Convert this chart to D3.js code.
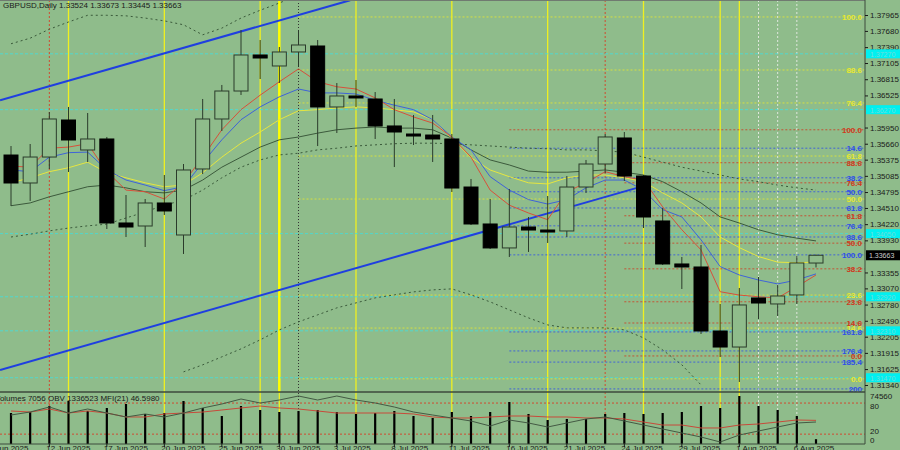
<!DOCTYPE html>
<html>
<head>
<meta charset="utf-8">
<script src="https://cdn.jsdelivr.net/npm/d3@7"></script>
<style>
  body { margin: 0; background: #8fbc8b; }
  svg text { font-family: "Liberation Sans", "DejaVu Sans", sans-serif; }
</style>
</head>
<body>
<svg id="chart" width="900" height="450"></svg>
<script>
// candles GBPUSD daily 10 Jun .. 7 Aug 2025
const opens  = [1.35458,1.34957,1.35422,1.36085,1.35548,1.35745,1.34241,1.34187,1.34599,1.34026,1.35208,1.36103,1.36604,1.37249,1.37052,1.37303,1.37410,1.36318,1.36515,1.36461,1.35978,1.35834,1.35816,1.35745,1.34885,1.34223,1.33794,1.34169,1.34115,1.34098,1.34885,1.35297,1.35763,1.35082,1.34277,1.33507,1.33453,1.32307,1.32020,1.32898,1.32791,1.32952,1.33524];
const highs  = [1.35619,1.35655,1.36228,1.36318,1.36210,1.35781,1.34742,1.34670,1.35100,1.35297,1.36461,1.36712,1.37696,1.37517,1.37392,1.37696,1.37517,1.36747,1.36801,1.36586,1.36461,1.36175,1.36175,1.35834,1.35029,1.34670,1.34850,1.34348,1.34724,1.35082,1.35369,1.35834,1.35870,1.35100,1.34509,1.33632,1.33847,1.32791,1.33077,1.33274,1.33131,1.33650,1.33673];
const lows   = [1.34545,1.34635,1.35208,1.35154,1.35333,1.34133,1.33990,1.33811,1.34384,1.33686,1.35118,1.35888,1.36533,1.36819,1.36747,1.37034,1.35619,1.35852,1.36318,1.35745,1.35243,1.35637,1.35333,1.34796,1.34205,1.33776,1.33632,1.33722,1.33883,1.33990,1.34778,1.35136,1.34993,1.34151,1.33489,1.33059,1.32253,1.31841,1.31394,1.32522,1.32576,1.32791,1.33445];
const closes = [1.34957,1.35422,1.36103,1.35727,1.35745,1.34241,1.34169,1.34599,1.34456,1.35190,1.36103,1.36604,1.37249,1.37195,1.37303,1.37428,1.36318,1.36515,1.36497,1.35978,1.35870,1.35816,1.35745,1.34867,1.34223,1.33794,1.34169,1.34115,1.34080,1.34885,1.35297,1.35781,1.35082,1.34348,1.33507,1.33453,1.32307,1.32020,1.32773,1.32808,1.32934,1.33525,1.33663];

// moving averages
const maRed    = [1.3526,1.3524,1.3558,1.3560,1.3566,1.3516,1.3483,1.3480,1.3467,1.3496,1.3542,1.3591,1.3627,1.3653,1.3677,1.3700,1.3677,1.3668,1.3664,1.3648,1.3627,1.3614,1.3603,1.3578,1.3542,1.3483,1.3456,1.3442,1.3430,1.3480,1.3496,1.3516,1.3507,1.3501,1.3453,1.3412,1.3376,1.3301,1.3295,1.3292,1.3290,1.3310,1.3331];
const maBlue   = [1.3519,1.3516,1.3542,1.3550,1.3551,1.3519,1.3501,1.3492,1.3482,1.3489,1.3532,1.3573,1.3609,1.3632,1.3650,1.3664,1.3657,1.3657,1.3655,1.3644,1.3635,1.3627,1.3609,1.3578,1.3555,1.3507,1.3483,1.3466,1.3458,1.3466,1.3487,1.3501,1.3501,1.3483,1.3448,1.3435,1.3394,1.3346,1.3331,1.3322,1.3315,1.3322,1.3333];
const maYellow = [1.3496,1.3505,1.3516,1.3523,1.3533,1.3514,1.3505,1.3496,1.3489,1.3492,1.3514,1.3542,1.3567,1.3587,1.3609,1.3625,1.3627,1.3630,1.3632,1.3630,1.3627,1.3623,1.3609,1.3576,1.3541,1.3519,1.3507,1.3496,1.3494,1.3505,1.3510,1.3510,1.3505,1.3498,1.3478,1.3460,1.3435,1.3399,1.3380,1.3364,1.3354,1.3353,1.3354];
const maGreen  = [1.3455,1.3460,1.3471,1.3480,1.3489,1.3492,1.3487,1.3480,1.3478,1.3483,1.3501,1.3524,1.3542,1.3560,1.3573,1.3578,1.3585,1.3591,1.3594,1.3596,1.3594,1.3594,1.3591,1.3576,1.3555,1.3537,1.3528,1.3517,1.3515,1.3515,1.3517,1.3519,1.3515,1.3510,1.3498,1.3480,1.3460,1.3435,1.3424,1.3412,1.3403,1.3397,1.3392];
const bandUpper = [1.3745,1.3755,1.3771,1.3784,1.3796,1.3796,1.3795,1.3791,1.3786,1.3779,1.3761,1.3773,1.3791,1.3805,1.3818,1.3832];
const bandMid   = [1.3399,1.3404,1.3410,1.3415,1.3419,1.3422,1.3433,1.3444,1.3456,1.3465,1.3483,1.3505,1.3524,1.3537,1.3546,1.3549,1.3555,1.3558,1.3562,1.3564,1.3566,1.3567,1.3567,1.3566,1.3564,1.3562,1.3560,1.3558,1.3557,1.3555,1.3555,1.3553,1.3551,1.3542,1.3533,1.3524,1.3517,1.3510,1.3503,1.3498,1.3492,1.3487,1.3483];
const bandLowerStart = 9;
const bandLower = [1.31575,1.31701,1.31844,1.31987,1.32148,1.32327,1.32470,1.32596,1.32721,1.32810,1.32900,1.32954,1.33007,1.33043,1.33061,1.32954,1.32828,1.32685,1.32542,1.32416,1.32363,1.32363,1.32363,1.32327,1.32184,1.31969,1.31701,1.31342];

// lower panel
const volumes = [45300,46800,55600,62900,48200,52600,58500,43900,45300,62900,52600,40900,55600,49700,46800,48200,49700,46800,43900,45300,48200,40900,38000,46800,40900,46800,61400,43900,35100,36600,36600,43900,45300,43900,45300,46800,55600,52600,70200,55600,49700,40900,7056];
const mfi = [64.7,62.7,68.5,60.8,64.7,60.8,53.1,53.1,58.9,60.8,62.7,66.6,70.5,74.3,70.5,68.5,64.7,60.8,60.8,60.8,60.8,58.9,53.1,51.2,51.2,53.1,55.0,55.0,53.1,53.1,51.2,51.2,49.2,43.4,37.6,37.6,31.9,31.9,37.6,39.6,43.4,47.3,46.6];
const obv = [1511523,1586523,1711523,1561523,1661523,1561523,1461523,1536523,1461523,1561523,1686523,1786523,1911523,1811523,1886523,1986523,1886523,1986523,1886523,1811523,1711523,1586523,1511523,1436523,1361523,1236523,1386523,1311523,1211523,1311523,1411523,1461523,1361523,1261523,1161523,1061523,961523,836523,1011523,1111523,1211523,1311523,1336523];

// axis / levels
const priceTicks = [1.37965,1.37680,1.37390,1.37105,1.36815,1.36525,1.35950,1.35660,1.35375,1.35085,1.34795,1.34510,1.34220,1.33930,1.33355,1.33070,1.32780,1.32490,1.32205,1.31915,1.31625,1.31340];
const dateLabels = [[-1,"9 Jun 2025"],[2,"12 Jun 2025"],[5,"17 Jun 2025"],[8,"20 Jun 2025"],[11,"25 Jun 2025"],[14,"30 Jun 2025"],[17,"3 Jul 2025"],[20,"8 Jul 2025"],[23,"11 Jul 2025"],[26,"16 Jul 2025"],[29,"21 Jul 2025"],[32,"24 Jul 2025"],[35,"29 Jul 2025"],[38,"1 Aug 2025"],[41,"6 Aug 2025"]];
const fibLabels = ["100.0","88.6","76.4","100.0","14.6","61.8","88.6","38.2","76.4","50.0","50.0","61.8","61.8","76.4","88.6","50.0","100.0","38.2","23.6","23.6","14.6","14.6","161.8","176.4","0.0","185.4","0.0","200"];
const fibPrices = [1.3793,1.3698,1.3639,1.3591,1.3558,1.3544,1.3532,1.3505,1.3496,1.3480,1.3467,1.3451,1.3437,1.3419,1.3399,1.3388,1.3367,1.3342,1.3295,1.3283,1.3245,1.3236,1.3229,1.3195,1.3186,1.3175,1.3145,1.3127];
const fibSets = ["y","y","y","r0","b","y","r","b","r","b","y","b","r","b","b","r","b","r","y","r","r","y","b","b","r","b","y","b"];
const cyanLevels = [1.3727,1.3627,1.3405,1.3292,1.3231,1.3147];
const yellowVert = [3,8,13,14,18,23,28,33,37,38];
const redVert = [2,31];
const greyVert = [39,40,41];
const trendUp = [[-0.57,1.3644],[17.7,1.3823]];
const trendLow = [[-0.57,1.3161],[32.66,1.3487]];

const svg = d3.select("#chart");
const W = 865, plotBottom = 392, panelBottom = 444;
const x = d3.scaleLinear().domain([0, 42]).range([11, 816]);
const y = d3.scaleLinear().domain([1.31340, 1.37965]).range([385, 15]);
const yVol = d3.scaleLinear().domain([0, 74560]).range([panelBottom, 393]);
const yMfi = d3.scaleLinear().domain([0, 100]).range([444.5, 392.7]);
const yObv = d3.scaleLinear().domain([836523, 1986523]).range([442, 396]);
const idx = d3.range(closes.length);

svg.append("rect").attr("width", 900).attr("height", 450).attr("fill", "#8fbc8b");
svg.append("clipPath").attr("id", "cp").append("rect").attr("width", W).attr("height", plotBottom);
svg.append("clipPath").attr("id", "cpv").append("rect").attr("y", plotBottom).attr("width", W).attr("height", panelBottom - plotBottom);
const g = svg.append("g").attr("clip-path", "url(#cp)");
const gv = svg.append("g").attr("clip-path", "url(#cpv)");

// vertical lines
[[yellowVert, "#f0f020", null, 1.3], [redVert, "#d04a30", "2,2", 1], [greyVert, "#dfe6dc", "2,2", 1]].forEach(function (d) {
  [g, gv].forEach(function (gg) {
    gg.selectAll(null).data(d[0]).enter().append("line")
      .attr("x1", i => x(i)).attr("x2", i => x(i)).attr("y1", 0).attr("y2", panelBottom)
      .attr("stroke", d[1]).attr("stroke-width", d[3]).attr("stroke-dasharray", d[2]);
  });
});
g.append("line").attr("x1", x(14)).attr("x2", x(14)).attr("y1", 0).attr("y2", plotBottom).attr("stroke", "#ffff00").attr("stroke-width", 2.5);
[g, gv].forEach(gg => gg.append("line").attr("x1", x(15)).attr("x2", x(15)).attr("y1", 0).attr("y2", panelBottom)
  .attr("stroke", "#333").attr("stroke-dasharray", "1,2"));

// cyan levels
g.selectAll(".cy").data(cyanLevels).enter().append("line")
  .attr("x1", 0).attr("x2", W).attr("y1", d => y(d)).attr("y2", d => y(d))
  .attr("stroke", "#40e0e0").attr("stroke-dasharray", "3,2").attr("stroke-width", 0.8);

// fib levels
const fibColor = {y: "#e8e830", r: "#d03a20", r0: "#d03a20", b: "#2f4fe8"};
const fibStart = {y: x(15), r: x(32), r0: x(26), b: x(26)};
g.selectAll(".fib").data(fibPrices).enter().append("line")
  .attr("x1", (d, i) => fibStart[fibSets[i]]).attr("x2", W)
  .attr("y1", d => y(d)).attr("y2", d => y(d))
  .attr("stroke", (d, i) => fibColor[fibSets[i]]).attr("stroke-dasharray", "2,2").attr("stroke-width", 0.8);
g.selectAll(".fibt").data(fibPrices).enter().append("text")
  .attr("x", 862).attr("y", d => y(d) + 3).attr("text-anchor", "end")
  .attr("font-size", 8).attr("font-weight", "bold")
  .attr("fill", (d, i) => fibColor[fibSets[i]]).text((d, i) => fibLabels[i]);

// trend lines
[trendUp, trendLow].forEach(t => g.append("line")
  .attr("x1", x(t[0][0])).attr("y1", y(t[0][1])).attr("x2", x(t[1][0])).attr("y2", y(t[1][1]))
  .attr("stroke", "#1f3fe0").attr("stroke-width", 2));

// bands and averages
const line = d3.line().defined(d => d[1] != null).x(d => x(d[0])).y(d => y(d[1]));
function series(arr, start) { return arr.map((v, i) => [i + (start || 0), v]); }
g.append("path").attr("d", line(series(bandUpper))).attr("fill", "none").attr("stroke", "#3a5a3a").attr("stroke-dasharray", "2,3");
g.append("path").attr("d", line(series(bandMid))).attr("fill", "none").attr("stroke", "#3a5a3a").attr("stroke-dasharray", "2,3");
g.append("path").attr("d", line(series(bandLower, bandLowerStart))).attr("fill", "none").attr("stroke", "#3a5a3a").attr("stroke-dasharray", "2,3");
[[maGreen, "#3c5a3c"], [maYellow, "#e6e640"], [maBlue, "#3f63d8"], [maRed, "#d8503a"]].forEach(function (m) {
  g.append("path").attr("d", line(series(m[0]))).attr("fill", "none").attr("stroke", m[1]).attr("stroke-width", 1);
});

// candles
const bw = 14;
g.selectAll(".wick").data(idx).enter().append("line")
  .attr("x1", i => x(i)).attr("x2", i => x(i)).attr("y1", i => y(highs[i])).attr("y2", i => y(lows[i]))
  .attr("stroke", "#2b3b2b").attr("stroke-width", 1);
g.selectAll(".body").data(idx).enter().append("rect")
  .attr("x", i => x(i) - bw / 2).attr("width", bw)
  .attr("y", i => y(Math.max(opens[i], closes[i])))
  .attr("height", i => Math.max(2, Math.abs(y(opens[i]) - y(closes[i]))))
  .attr("fill", i => closes[i] >= opens[i] ? "#8fbc8b" : "#000")
  .attr("stroke", i => closes[i] >= opens[i] ? "#2b3b2b" : "#000");

// lower panel
gv.selectAll(".lv").data([80, 20]).enter().append("line")
  .attr("x1", 0).attr("x2", W).attr("y1", d => yMfi(d)).attr("y2", d => yMfi(d))
  .attr("stroke", "#d04a30").attr("stroke-dasharray", "2,2");
gv.selectAll(".vol").data(idx).enter().append("line")
  .attr("x1", i => x(i)).attr("x2", i => x(i)).attr("y1", panelBottom).attr("y2", i => yVol(volumes[i]))
  .attr("stroke", "#000").attr("stroke-width", 2.2);
gv.append("path").attr("d", d3.line().x((d, i) => x(i)).y(d => yMfi(d))(mfi)).attr("fill", "none").attr("stroke", "#c84a3a");
gv.append("path").attr("d", d3.line().x((d, i) => x(i)).y(d => yObv(d))(obv)).attr("fill", "none").attr("stroke", "#445a44");

// frames
svg.append("line").attr("x1", 0).attr("x2", W).attr("y1", plotBottom).attr("y2", plotBottom).attr("stroke", "#3c4a3c").attr("stroke-width", 1.5);
svg.append("line").attr("x1", 0).attr("x2", W).attr("y1", 0.5).attr("y2", 0.5).attr("stroke", "#707a70");
svg.append("line").attr("x1", 0).attr("x2", W).attr("y1", panelBottom).attr("y2", panelBottom).attr("stroke", "#3c4a3c");
svg.append("line").attr("x1", W).attr("x2", W).attr("y1", 0).attr("y2", panelBottom).attr("stroke", "#3c4a3c");

// right price axis
const axis = svg.append("g").attr("transform", `translate(${W},0)`)
  .call(d3.axisRight(y).tickValues(priceTicks).tickSize(3).tickFormat(d3.format(".5f")));
axis.select(".domain").remove();
axis.selectAll("text").attr("font-size", 8).attr("fill", "#1a1a1a").attr("x", 5)
  .attr("font-family", "Liberation Sans, sans-serif");
axis.selectAll("line").attr("stroke", "#1a1a1a");

// cyan tags
const tags = svg.selectAll(".tag").data(cyanLevels).enter().append("g")
  .attr("transform", d => `translate(${W + 1},${y(d)})`);
tags.append("rect").attr("y", -4.5).attr("width", 35).attr("height", 9).attr("fill", "#00f0f0");
tags.append("text").attr("x", 4).attr("y", 3).attr("font-size", 7).attr("fill", "#6fdcdc").text(d => d.toFixed(5));

// current price
const last = closes[closes.length - 1];
svg.append("rect").attr("x", W + 1).attr("y", y(last) - 5).attr("width", 35).attr("height", 10).attr("fill", "#000");
svg.append("text").attr("x", W + 4).attr("y", y(last) + 3).attr("font-size", 7).attr("fill", "#ccc").text(last.toFixed(5));

// panel axis
svg.selectAll(".pa").data([["74560", 399], ["80", yMfi(80) + 6], ["20", yMfi(20)], ["0", 443]]).enter().append("text")
  .attr("x", W + 5).attr("y", d => d[1]).attr("font-size", 8).attr("fill", "#1a1a1a").text(d => d[0]);

// date axis
svg.selectAll(".dl").data(dateLabels).enter().append("text")
  .attr("x", d => x(d[0]) - 3).attr("y", 451).attr("font-size", 8).attr("fill", "#1a1a1a").text(d => d[1]);
svg.selectAll(".dt").data(dateLabels).enter().append("line")
  .attr("x1", d => x(d[0])).attr("x2", d => x(d[0])).attr("y1", panelBottom).attr("y2", panelBottom + 3).attr("stroke", "#1a1a1a");

// headers
svg.append("text").attr("x", 3).attr("y", 8).attr("font-size", 8).attr("fill", "#1a1a1a")
  .text("GBPUSD,Daily  1.33524 1.33673 1.33445 1.33663");
svg.append("text").attr("x", -5).attr("y", 401).attr("font-size", 8).attr("fill", "#1a1a1a")
  .text("Volumes 7056  OBV 1336523  MFI(21) 46.5980");
</script>
</body>
</html>
